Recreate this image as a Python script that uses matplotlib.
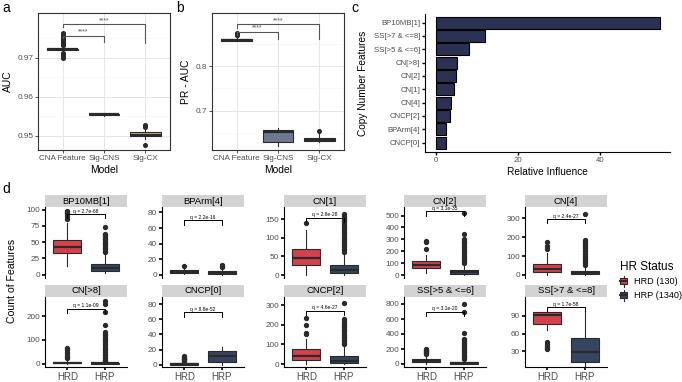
import matplotlib.pyplot as plt
from matplotlib.patches import Rectangle
from matplotlib.lines import Line2D
from matplotlib.legend_handler import HandlerBase

plt.rcParams["font.family"] = ["Liberation Sans", "DejaVu Sans"]

W, H = 682, 382
EDGE = "#2A2A2A"
TICK_COL = "#4D4D4D"

# ---- panel a / b : model comparison (whislo, q1, med, q3, whishi, fliers)
models = ["CNA Feature", "Sig-CNS", "Sig-CX"]
model_colors = ["#3A3A3A", "#6E7891", "#CDB380"]
auc_stats = [
    (0.9715, 0.9720, 0.9722, 0.9724, 0.9730,
     [0.9700, 0.9702, 0.9705, 0.9708, 0.9711, 0.9713, 0.9732, 0.9734, 0.9736, 0.9738,
      0.9740, 0.9742, 0.9744, 0.9746, 0.9749, 0.9752, 0.9756, 0.9760, 0.9765]),
    (0.9550, 0.9553, 0.9555, 0.9557, 0.9560, []),
    (0.9492, 0.9500, 0.9502, 0.9509, 0.9520, [0.9476, 0.9523, 0.9526, 0.9529]),
]
pr_stats = [
    (0.855, 0.856, 0.858, 0.861, 0.866, [0.868, 0.870, 0.872, 0.874]),
    (0.623, 0.630, 0.653, 0.658, 0.662, []),
    (0.631, 0.634, 0.636, 0.640, 0.648, [0.656]),
]
# brackets: x1, x2, y, left tip, right tip
auc_brackets = [(1, 2, 0.9757, 0.9752, 0.9741), (1, 3, 0.9787, 0.9778, 0.9738)]
pr_brackets = [(1, 2, 0.876, 0.870, 0.860), (1, 3, 0.893, 0.885, 0.860)]

# ---- panel c : relative influence
features = ["BP10MB[1]", "SS[>7 & <=8]", "SS[>5 & <=6]", "CN[>8]", "CN[2]",
            "CN[1]", "CN[4]", "CNCP[2]", "BPArm[4]", "CNCP[0]"]
influence = [54.6, 11.8, 7.9, 5.2, 4.9, 4.4, 3.6, 3.4, 2.4, 2.3]

# ---- panel d : feature counts by HR status
groups = ["HRD", "HRP"]
group_colors = ["#D6404A", "#354560"]
legend_labels = ["HRD (130)", "HRP (1340)"]
facet_names = ["BP10MB[1]", "BPArm[4]", "CN[1]", "CN[2]", "CN[4]",
               "CN[>8]", "CNCP[0]", "CNCP[2]", "SS[>5 & <=6]", "SS[>7 & <=8]"]
facet_hrd = [
    (13, 33, 42, 53, 80, [86, 90, 93, 95, 97, 98]),
    (1, 2, 4, 6, 8, [11]),
    (0, 27, 46, 69, 122, [140]),
    (15, 57, 87, 117, 170, [220, 280, 290]),
    (0, 17, 30, 56, 115, [140, 155, 175]),
    (0, 1, 3, 9, 20, [22, 27, 33, 40, 48, 56, 63, 66]),
    (0, 0, 1, 2, 4, [5, 6, 7, 8, 9, 10, 11]),
    (0, 21, 43, 76, 130, [152, 158, 200, 235]),
    (0, 22, 40, 65, 125, [132, 142, 152, 162, 172, 182, 192, 200]),
    (66, 77, 91, 96, 102, [33, 36, 39, 43, 46]),
]
facet_hrp = [
    (2, 6, 10, 17, 33, [35, 37, 39, 41, 43, 45, 47, 49, 51, 53, 55, 57, 59, 61, 63, 73]),
    (0, 1, 3, 5, 8, [10, 12, 13]),
    (0, 5, 14, 27, 60, [62, 66, 71, 75, 80, 84, 89, 93, 98, 103, 107, 112, 116, 121,
                        126, 130, 135, 139, 144, 149, 153, 158, 163]),
    (0, 12, 25, 45, 95, [100, 112, 125, 138, 150, 163, 176, 190, 204, 218, 232, 246,
                         260, 275, 290, 302, 345, 520]),
    (0, 4, 10, 22, 50, [55, 62, 70, 78, 86, 94, 102, 110, 118, 126, 134, 142, 150,
                        158, 166, 175, 184, 322]),
    (0, 0, 1, 3, 8, [10, 16, 22, 28, 35, 42, 49, 56, 63, 70, 77, 84, 91, 98, 105,
                     112, 119, 126, 133, 161, 217, 252, 266]),
    (0, 4, 11, 18, 24, []),
    (0, 3, 15, 40, 95, [100, 108, 116, 124, 132, 140, 148, 156, 164, 172, 180, 188,
                        196, 204, 212, 220, 228, 310]),
    (0, 5, 14, 28, 62, [70, 88, 106, 124, 142, 160, 178, 196, 214, 232, 250, 268, 286,
                        304, 322, 336, 413, 700, 805]),
    (5, 12, 28, 53, 104, []),
]
facet_q = ["q = 2.7e-68", "q = 2.2e-16", "q = 2.8e-28", "q = 3.1e-35", "q = 2.4e-27",
           "q = 1.1e-09", "q = 8.8e-52", "q = 4.6e-27", "q = 3.1e-20", "q = 1.7e-58"]
facet_qy = [93, 70, 154, 535, 296, 231, 69, 273, 700, 105]
facet_ylim = [(-5, 104), (-4, 87), (-8, 183), (-25, 572), (-16, 360),
              (-14, 283), (-3, 90), (-15, 345), (-40, 900), (3, 123)]
facet_ticks = [[0, 25, 50, 75, 100], [0, 20, 40, 60, 80], [0, 50, 100, 150],
               [0, 100, 200, 300, 400, 500], [0, 100, 200, 300], [0, 100, 200],
               [0, 20, 40, 60, 80], [0, 100, 200, 300], [0, 200, 400, 600, 800], [30, 60, 90]]


def rect(l, t, r, b):
    return [l / W, 1 - b / H, (r - l) / W, (b - t) / H]


def draw_boxes(ax, stats, colors, lw=0.8, ms=2.6):
    st = [dict(whislo=s[0], q1=s[1], med=s[2], q3=s[3], whishi=s[4], fliers=s[5]) for s in stats]
    bp = ax.bxp(st, positions=range(1, len(st) + 1), widths=0.75, patch_artist=True,
                showcaps=False,
                boxprops=dict(edgecolor=EDGE, linewidth=lw),
                medianprops=dict(color=EDGE, linewidth=lw * 2),
                whiskerprops=dict(color=EDGE, linewidth=lw),
                flierprops=dict(marker="o", markersize=ms, markerfacecolor=EDGE,
                                markeredgecolor=EDGE, linestyle="none"))
    for patch, c in zip(bp["boxes"], colors):
        patch.set_facecolor(c)


def model_panel(ax, stats, ylim, major, minor, ylabel, brackets):
    draw_boxes(ax, stats, model_colors)
    ax.set_xlim(0.4, 3.6)
    ax.set_ylim(ylim)
    ax.set_xticks([1, 2, 3], models)
    ax.set_yticks(major)
    ax.set_yticks(minor, minor=True)
    ax.grid(which="major", color="#E6E6E6", lw=0.7)
    ax.grid(which="minor", axis="y", color="#F3F3F3", lw=0.4)
    ax.set_axisbelow(True)
    ax.tick_params(which="minor", length=0)
    ax.tick_params(which="major", length=2, width=0.6, color="#333333",
                   labelsize=5.9, labelcolor=TICK_COL, pad=1.5)
    for sp in ax.spines.values():
        sp.set_color("#333333")
        sp.set_linewidth(0.8)
    ax.set_xlabel("Model", fontsize=7.4, labelpad=2)
    ax.set_ylabel(ylabel, fontsize=7.4, labelpad=3)
    for x1, x2, y, tl, tr in brackets:
        ax.plot([x1, x1, x2, x2], [tl, y, y, tr], color="#555555", lw=0.8)
        ax.text((x1 + x2) / 2, y, "****", ha="center", va="bottom", fontsize=5, color="#555555")


class BoxKey(HandlerBase):
    def create_artists(self, legend, orig_handle, xdescent, ydescent, width, height, fontsize, trans):
        x0, y0 = -xdescent, -ydescent
        cx = x0 + width / 2
        wl = Line2D([cx, cx], [y0 - 1, y0 + height + 1], color=EDGE, lw=0.8, transform=trans)
        box = Rectangle((x0 + width * 0.1, y0 + height * 0.15), width * 0.8, height * 0.7,
                        facecolor=orig_handle.get_facecolor(), edgecolor=EDGE, lw=0.8, transform=trans)
        med = Line2D([x0 + width * 0.1, x0 + width * 0.9], [y0 + height / 2] * 2,
                     color=EDGE, lw=1.4, transform=trans)
        return [wl, box, med]


fig = plt.figure(figsize=(W / 100, H / 100), dpi=100)

# a
ax_a = fig.add_axes(rect(38, 13, 170, 150))
model_panel(ax_a, auc_stats, (0.9464, 0.9815), [0.95, 0.96, 0.97], [0.955, 0.965, 0.975],
            "AUC", auc_brackets)
# b
ax_b = fig.add_axes(rect(212, 13, 344, 150))
model_panel(ax_b, pr_stats, (0.613, 0.918), [0.7, 0.8], [0.65, 0.75, 0.85],
            "PR - AUC", pr_brackets)

# c
ax_c = fig.add_axes(rect(425, 14, 670, 152))
ypos = list(range(len(features)))
ax_c.barh(ypos, influence, height=0.9, color="#2B3152", edgecolor="black", lw=0.8)
ax_c.set_yticks(ypos, features)
ax_c.set_ylim(len(features) - 0.3, -0.65)
ax_c.set_xlim(-2.7, 57)
ax_c.set_xticks([0, 20, 40])
ax_c.spines[["top", "right"]].set_visible(False)
for sp in ("left", "bottom"):
    ax_c.spines[sp].set_linewidth(0.8)
ax_c.tick_params(length=2, width=1.0, labelsize=5.6, labelcolor=TICK_COL, pad=1.5)
ax_c.set_xlabel("Relative Influence", fontsize=7.3, labelpad=2)
ax_c.set_ylabel("Copy Number Features", fontsize=7.3, labelpad=4)

# d
col_left = [45, 162, 284, 404, 525]
strip_top = [195, 285]
strip_bot = [207, 296.5]
plot_bot = [278, 367]
for i, name in enumerate(facet_names):
    row, col = divmod(i, 5)
    l = col_left[col]
    ax = fig.add_axes(rect(l, strip_bot[row], l + 82, plot_bot[row]))
    draw_boxes(ax, [facet_hrd[i], facet_hrp[i]], group_colors, lw=0.8, ms=2.8)
    ax.set_xlim(0.4, 2.6)
    ax.set_ylim(facet_ylim[i])
    ax.set_yticks(facet_ticks[i])
    span = facet_ylim[i][1] - facet_ylim[i][0]
    qy = facet_qy[i]
    ax.plot([1, 1, 2, 2], [qy - 0.06 * span, qy, qy, qy - 0.06 * span], color="black", lw=0.7)
    ax.text(1.5, qy + 0.005 * span, facet_q[i], ha="center", va="bottom", fontsize=3.6)
    # strip
    sh = (strip_bot[row] - strip_top[row]) / (plot_bot[row] - strip_bot[row])
    ax.add_patch(Rectangle((0, 1), 1, sh, transform=ax.transAxes, clip_on=False,
                           facecolor="#D3D3D3", edgecolor="none"))
    ax.text(0.5, 1 + sh / 2, name, transform=ax.transAxes, ha="center", va="center", fontsize=6.8)
    ax.spines[["top", "right"]].set_visible(False)
    ax.spines["left"].set_linewidth(0.8)
    ax.tick_params(axis="y", length=2, width=1.2, labelsize=5.9, labelcolor=TICK_COL, pad=1.5)
    if row == 0:
        ax.spines["bottom"].set_visible(False)
        ax.set_xticks([])
    else:
        ax.spines["bottom"].set_linewidth(0.8)
        ax.set_xticks([1, 2], groups)
        ax.tick_params(axis="x", length=2, width=1.2, labelsize=7, labelcolor=TICK_COL, pad=1.5)

fig.text(12 / W, 1 - 281 / H, "Count of Features", rotation=90, ha="center", va="center", fontsize=7.6)

handles = [Rectangle((0, 0), 1, 1, facecolor=c) for c in group_colors]
fig.legend(handles, legend_labels, handler_map={Rectangle: BoxKey()},
           loc="upper left", bbox_to_anchor=(615 / W, 1 - 256 / H), frameon=False,
           title="HR Status", title_fontsize=8.5, fontsize=6.6, alignment="left",
           handlelength=0.9, handleheight=1.0, handletextpad=0.7, labelspacing=0.5, borderpad=0)

# panel letters
for lab, x, y in [("a", 2, 8), ("b", 176, 8), ("c", 351, 8), ("d", 2, 189)]:
    fig.text(x / W, 1 - y / H, lab, fontsize=10, ha="left", va="center")

fig.savefig("out.png", dpi=100, facecolor="white")
